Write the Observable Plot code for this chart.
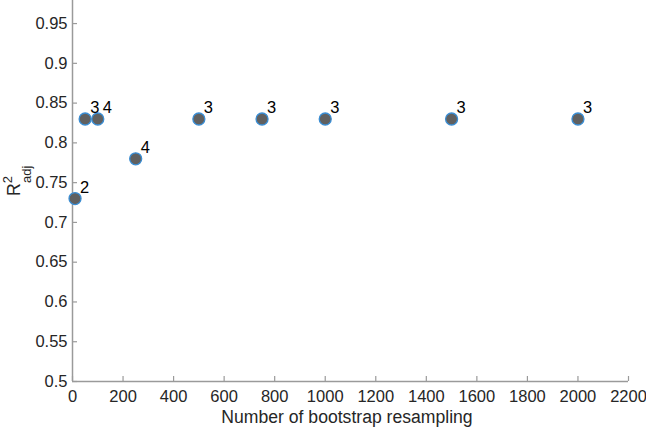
<!DOCTYPE html>
<html>
<head>
<meta charset="utf-8">
<script src="https://cdn.jsdelivr.net/npm/d3@7"></script>
<script src="https://cdn.jsdelivr.net/npm/@observablehq/plot@0.6"></script>
<style>
  html, body { margin: 0; padding: 0; background: #fff; }
  #chart svg { display: block; }
</style>
</head>
<body>
<div id="chart"></div>
<script>
const resamples = [10, 50, 100, 250, 500, 750, 1000, 1500, 2000];
const r2adj     = [0.73, 0.83, 0.83, 0.78, 0.83, 0.83, 0.83, 0.83, 0.83];
const nLabels   = ["2", "3", "4", "4", "3", "3", "3", "3", "3"];
const xTicks = [0, 200, 400, 600, 800, 1000, 1200, 1400, 1600, 1800, 2000, 2200];
const yTicks = [0.5, 0.55, 0.6, 0.65, 0.7, 0.75, 0.8, 0.85, 0.9, 0.95];

const data = resamples.map((x, i) => ({x, y: r2adj[i], label: nLabels[i]}));

const font = "'Liberation Sans', Arial, Helvetica, sans-serif";
const axisColor = "#9a9a9a";
const textColor = "#262626";

const W = 646, H = 429, mL = 72, mR = 18, mT = 0, mB = 48;
const xDomain = [0, 2200], yDomain = [0.5, 0.979];
// inward tick length (5px) expressed in data units of each scale
const tickLenX = 5 * (yDomain[1] - yDomain[0]) / (H - mT - mB);
const tickLenY = 5 * (xDomain[1] - xDomain[0]) / (W - mL - mR);

const plot = Plot.plot({
  width: W,
  height: H,
  marginTop: mT,
  marginLeft: mL,
  marginRight: mR,
  marginBottom: mB,
  style: {fontFamily: font, fontSize: "16.5px", color: textColor, background: "#fff"},
  x: {domain: xDomain, ticks: xTicks},
  y: {domain: yDomain, ticks: yTicks},
  marks: [
    Plot.axisX({ticks: xTicks, tickSize: 0, tickPadding: 9, label: null,
      tickFormat: d => String(d), fill: textColor, fontSize: 16.5}),
    Plot.axisY({ticks: yTicks, tickSize: 0, tickPadding: 5, label: null,
      tickFormat: d => String(+d.toFixed(2)), fill: textColor, fontSize: 16.5}),
    Plot.ruleX(xTicks, {x: d => d, y1: yDomain[0], y2: yDomain[0] + tickLenX, stroke: axisColor, strokeWidth: 1.2}),
    Plot.ruleY(yTicks, {y: d => d, x1: xDomain[0], x2: xDomain[0] + tickLenY, stroke: axisColor, strokeWidth: 1.2}),
    Plot.ruleY([yDomain[0]], {stroke: axisColor, strokeWidth: 1.5}),
    Plot.ruleX([xDomain[0]], {stroke: axisColor, strokeWidth: 1.5}),
    Plot.dot(data, {x: "x", y: "y", r: 6, fill: "#606060", stroke: "#3a8dd3", strokeWidth: 1.3}),
    Plot.text(data, {x: "x", y: "y", text: "label", dx: 5, dy: -11, textAnchor: "start",
      fontSize: 16.5, fill: "#000"})
  ]
});

document.getElementById("chart").appendChild(plot);

const svg = d3.select(plot);
// x-axis title
svg.append("text")
  .attr("x", 347)
  .attr("y", 423)
  .attr("text-anchor", "middle")
  .attr("font-family", font)
  .attr("font-size", 17.6)
  .attr("fill", textColor)
  .text("Number of bootstrap resampling");

// y-axis title: R²adj
const yl = svg.append("text")
  .attr("transform", "translate(20,196) rotate(-90)")
  .attr("text-anchor", "start")
  .attr("font-family", font)
  .attr("font-size", 17.6)
  .attr("fill", textColor);
yl.append("tspan").text("R");
yl.append("tspan").attr("font-size", 13).attr("dy", -8).text("2");
yl.append("tspan").attr("font-size", 13).attr("dy", 19).attr("dx", -7).text("adj");
</script>
</body>
</html>
